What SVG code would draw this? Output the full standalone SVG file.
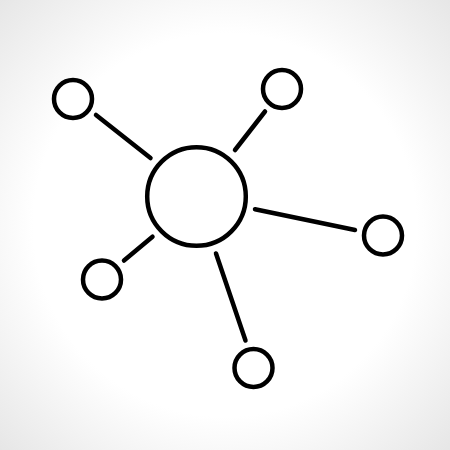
<svg xmlns="http://www.w3.org/2000/svg" width="450" height="450" viewBox="0 0 450 450">
<defs>
<radialGradient id="bg" cx="50%" cy="50%" r="71%">
<stop offset="0" stop-color="#ffffff"/>
<stop offset="0.6" stop-color="#ffffff"/>
<stop offset="1" stop-color="#e6e6e6"/>
</radialGradient>
<style>
.n{fill:#fff;stroke:#000;stroke-width:4.5}
.c{stroke:#000;stroke-width:4.5;stroke-linecap:round;fill:none}
</style>
</defs>
<rect width="450" height="450" fill="url(#bg)"/>
<g id="connectors">
<line class="c" x1="96" y1="115" x2="150.5" y2="158"/>
<line class="c" x1="265" y1="111.5" x2="235" y2="150"/>
<line class="c" x1="255" y1="209.3" x2="355" y2="230"/>
<line class="c" x1="152.5" y1="236.7" x2="124" y2="260.5"/>
<line class="c" x1="216" y1="253.5" x2="245.5" y2="340.5"/>
</g>
<g id="hub"><circle class="n" cx="196.5" cy="196.5" r="49.3"/></g>
<g id="n1"><circle class="n" cx="73" cy="99" r="19"/></g>
<g id="n2"><circle class="n" cx="282" cy="89" r="19"/></g>
<g id="n3"><circle class="n" cx="383" cy="235.5" r="19"/></g>
<g id="n4"><circle class="n" cx="102" cy="279.5" r="19"/></g>
<g id="n5"><circle class="n" cx="253.5" cy="368" r="19"/></g>
</svg>
